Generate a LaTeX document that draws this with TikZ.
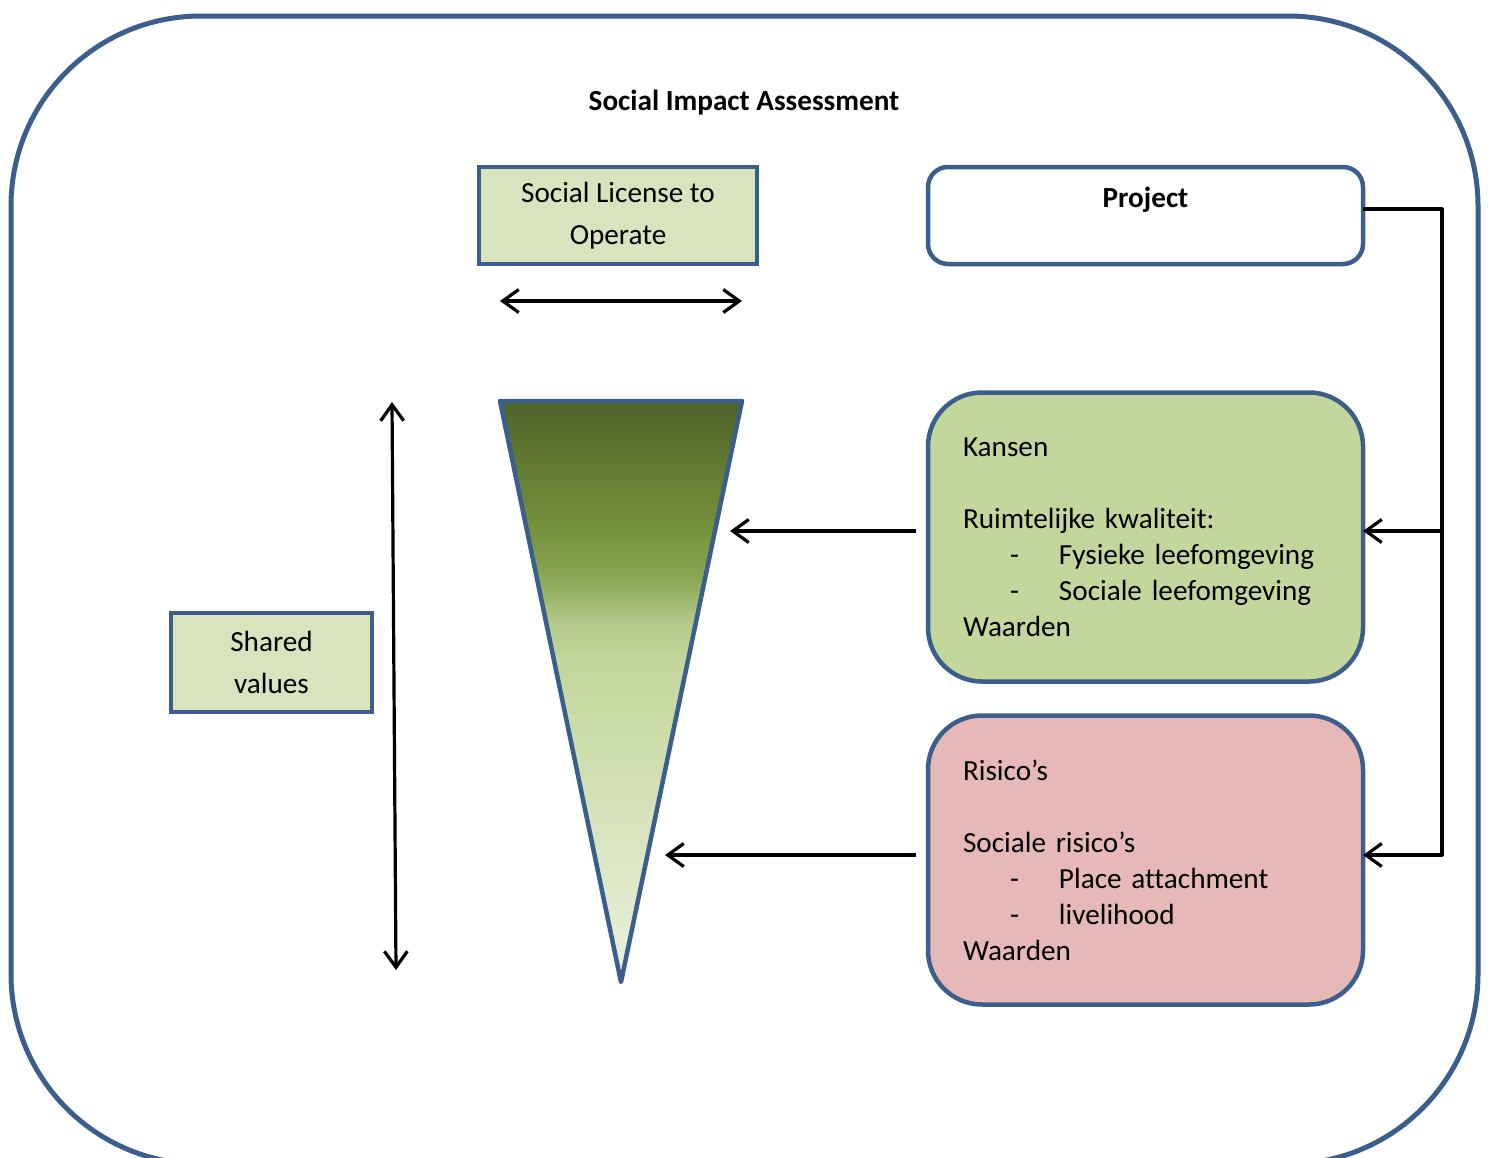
\documentclass[tikz,border=0pt]{standalone}
\usepackage{fontspec}
\setmainfont{Carlito}[Ligatures=NoCommon]
\usetikzlibrary{arrows.meta,positioning}

\definecolor{frame}{HTML}{3B5E8C}
\definecolor{paleolive}{HTML}{D7E4BD}
\definecolor{olive}{HTML}{C3D69B}
\definecolor{rose}{HTML}{E6B9B8}
\definecolor{wedgeA}{HTML}{4F6228}
\definecolor{wedgeB}{HTML}{76923C}
\definecolor{wedgeC}{HTML}{8DA958}
\definecolor{wedgeD}{HTML}{B4C98A}
\definecolor{wedgeE}{HTML}{C3D69B}
\definecolor{wedgeF}{HTML}{EBF1DE}
\pgfdeclareverticalshading{wedge}{100bp}{color(0bp)=(wedgeF); color(25bp)=(wedgeF);
  color(52.75bp)=(wedgeE); color(56bp)=(wedgeD); color(59.5bp)=(wedgeC);
  color(64bp)=(wedgeB); color(75bp)=(wedgeA); color(100bp)=(wedgeA)}

\newcommand{\dashitem}[1]{\makebox[48pt][l]{\hspace{23.5pt}-}#1}

\tikzset{
  >={Straight Barb[length=8pt,width=11.5pt]},
  labelbox/.style={draw=frame, line width=2.25pt, fill=paleolive, align=center,
    inner sep=0pt, outer sep=0pt, font=\fontsize{14.6}{21}\selectfont},
  roundbox/.style={draw=frame, line width=2.25pt, rounded corners=27pt, align=left,
    text width=182.5pt, inner xsep=17.5pt, inner ysep=0pt, outer sep=0pt,
    minimum height=144.5pt},
  link/.style={line width=1.6pt, line join=round}
}

\begin{document}
\begin{tikzpicture}[x=0.5pt, y=-0.5pt, font=\fontsize{14.6}{18}\selectfont]
  \useasboundingbox (0,0) rectangle (1488,1157);
  \draw[draw=frame, line width=2.5pt, rounded corners=95pt] (11,16) rectangle (1478,1164);

  \node[font=\fontsize{14.6}{18}\selectfont\bfseries] (title) at (744,103) {Social Impact Assessment};

  \node[labelbox, minimum width=139pt, minimum height=48.5pt] (slo) at (618,215.5)
    {Social License to\\Operate};
  \node[labelbox, minimum width=100.5pt, minimum height=49.5pt] (shared) at (271.5,662.5)
    {Shared\\values};

  \node[draw=frame, line width=2.25pt, rounded corners=10pt, fill=white, align=center,
    minimum width=217.5pt, minimum height=48.5pt, inner sep=0pt, outer sep=0pt]
    (project) at (1145.5,215.5) {\textbf{Project}\\\mbox{}};

  \node[roundbox, fill=olive] (kansen) at (1145.5,537)
    {Kansen\\[18pt]Ruimtelijke kwaliteit:\\\dashitem{Fysieke leefomgeving}\\
     \dashitem{Sociale leefomgeving}\\Waarden};
  \node[roundbox, fill=rose] (risico) at (1145.5,860)
    {Risico’s\\[18pt]Sociale risico’s\\\dashitem{Place attachment}\\
     \dashitem{livelihood}\\Waarden};

  % the wedge
  \coordinate (wedge left) at (500,401);
  \coordinate (wedge right) at (742,401);
  \coordinate (wedge tip) at (621,982);
  \shadedraw[shading=wedge, draw=frame, line width=2.25pt, line join=round]
    (wedge left) -- (wedge right) -- (wedge tip) -- cycle;

  % arrows
  \coordinate (slo left) at (500,301);
  \coordinate (slo right) at (742,301);
  \draw[link, <->] (slo left) -- (slo right);
  \coordinate (sv top) at (392,402);
  \coordinate (sv bottom) at (396,970);
  \draw[link, <->] (sv top) -- (sv bottom);

  \coordinate (bus top) at (1442,209);
  \coordinate (bus mid) at (1442,531);
  \coordinate (bus bottom) at (1442,855);
  \draw[link, ->] (project.east |- bus top) -- (bus top) -- (bus bottom) -- (risico.east |- bus bottom);
  \draw[link, ->] (bus mid) -- (kansen.east |- bus mid);

  \path (kansen.west |- bus mid) ++(-12,0) coordinate (kansen from);
  \path (risico.west |- bus bottom) ++(-12,0) coordinate (risico from);
  \coordinate (kansen tip) at (730,531);
  \coordinate (risico tip) at (665,855);
  \draw[link, ->] (kansen from) -- (kansen tip);
  \draw[link, ->] (risico from) -- (risico tip);
\end{tikzpicture}
\end{document}
